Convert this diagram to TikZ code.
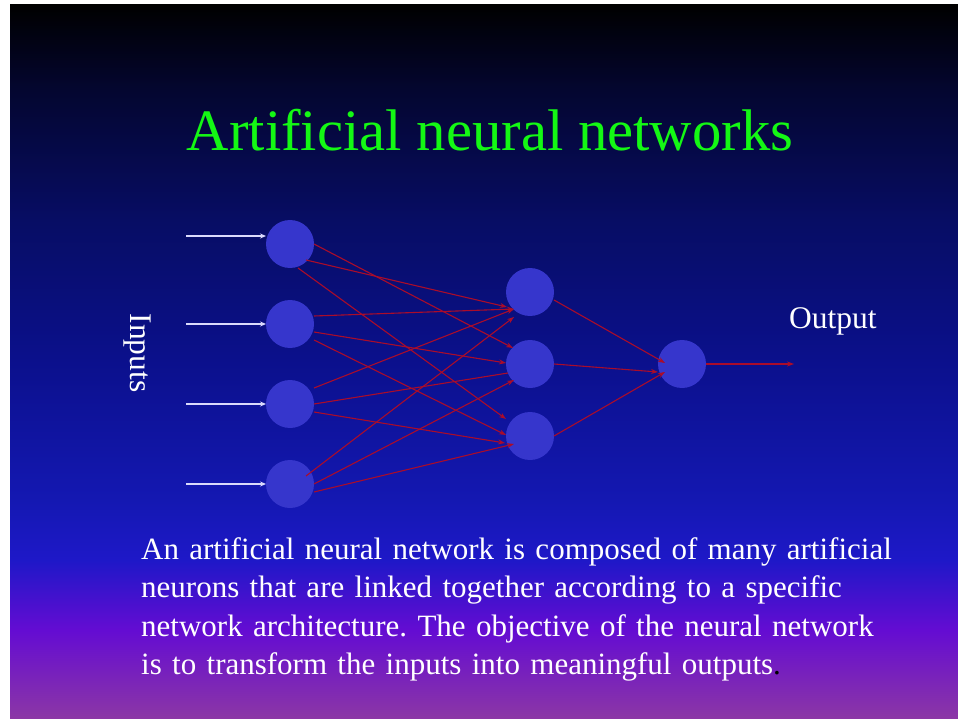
\documentclass[tikz,border=0pt]{standalone}
\usepackage{fontspec}
\setmainfont{Liberation Serif}
\usetikzlibrary{arrows.meta}

% slide background: black at the top, through deep blue, to violet at the foot
\pgfdeclareverticalshading{slidebg}{100bp}{
  rgb(0bp)=(0.549,0.216,0.647);
  rgb(25bp)=(0.549,0.216,0.647);
  rgb(31.23bp)=(0.392,0.047,0.824);
  rgb(36.13bp)=(0.118,0.094,0.784);
  rgb(40.34bp)=(0.078,0.094,0.698);
  rgb(50.14bp)=(0.043,0.063,0.549);
  rgb(59.94bp)=(0.027,0.051,0.392);
  rgb(69.05bp)=(0.016,0.024,0.188);
  rgb(75bp)=(0,0,0);
  rgb(100bp)=(0,0,0)}

\definecolor{neuronblue}{RGB}{54,54,204}
\definecolor{linkred}{RGB}{170,12,42}
\definecolor{feedwhite}{RGB}{218,218,252}
\definecolor{titlegreen}{RGB}{20,248,20}

\tikzset{
  neuron/.style={circle, fill=neuronblue, draw=none, minimum size=48pt, inner sep=0pt},
  link/.style={draw=linkred, line width=1.1pt, -{Stealth[length=7pt,width=5pt]}},
  plainlink/.style={draw=linkred, line width=1.1pt},
  feed/.style={draw=feedwhite, line width=1.4pt, -{Stealth[length=6pt,width=5pt]}},
  labeltext/.style={text=white, font=\fontsize{31.5}{38.5}\selectfont, inner sep=0pt},
  captiontext/.style={text=white, font=\fontsize{31}{38.5}\selectfont, inner sep=0pt},
}

\begin{document}
\frenchspacing
\begin{tikzpicture}[x=1pt, y=-1pt]
  \useasboundingbox (0,0) rectangle (958,719);
  \fill[white] (0,0) rectangle (958,719);
  \shade[shading=slidebg] (10,5) rectangle (958,719);

  % title
  \node[anchor=base, text=titlegreen, font=\fontsize{58.7}{70}\selectfont, inner sep=0pt]
    (title) at (490,151) {Artificial neural networks};

  % neurons
  \node[neuron] (i1) at (290,244) {};
  \node[neuron] (i2) at (290,324) {};
  \node[neuron] (i3) at (290,404) {};
  \node[neuron] (i4) at (290,484) {};
  \node[neuron] (h1) at (530,292) {};
  \node[neuron] (h2) at (530,364) {};
  \node[neuron] (h3) at (530,436) {};
  \node[neuron] (o)  at (682,364) {};

  % free ends of the input and output arrows
  \coordinate (s1) at (186,236);
  \coordinate (s2) at (186,324);
  \coordinate (s3) at (186,404);
  \coordinate (s4) at (186,484);
  \coordinate (out) at (794,364);

  % input arrows
  \draw[feed] (s1) -- ([shift={(-24,-8)}]i1.center);
  \draw[feed] (s2) -- ([shift={(-24,0)}]i2.center);
  \draw[feed] (s3) -- ([shift={(-24,0)}]i3.center);
  \draw[feed] (s4) -- ([shift={(-24,0)}]i4.center);

  % input layer to hidden layer
  \draw[link] ([shift={(24,0)}]i1.center)  -- ([shift={(-17,-16)}]h2.center);
  \draw[link] ([shift={(16,16)}]i1.center) -- ([shift={(-23,15)}]h1.center);
  \draw[link] ([shift={(8,24)}]i1.center)  -- ([shift={(-24,-17)}]h3.center);

  \draw[link] ([shift={(24,-8)}]i2.center) -- ([shift={(-16,17)}]h1.center);
  \draw[link] ([shift={(24,8)}]i2.center)  -- ([shift={(-24,-1)}]h2.center);
  \draw[link] ([shift={(24,16)}]i2.center) -- ([shift={(-24,-1)}]h3.center);

  \draw[link] ([shift={(24,-16)}]i3.center) -- ([shift={(-16,17)}]h1.center);
  \draw[plainlink] ([shift={(24,0)}]i3.center) -- ([shift={(-22,9)}]h2.center);
  \draw[link] ([shift={(24,8)}]i3.center)   -- ([shift={(-25,7)}]h3.center);

  \draw[link] ([shift={(16,-8)}]i4.center) -- ([shift={(-16,25)}]h1.center);
  \draw[link] ([shift={(24,0)}]i4.center)  -- ([shift={(-16,16)}]h2.center);
  \draw[link] ([shift={(24,8)}]i4.center)  -- ([shift={(-16,8)}]h3.center);

  % hidden layer to output neuron
  \draw[link] ([shift={(24,8)}]h1.center) -- ([shift={(-17,-1)}]o.center);
  \draw[link] ([shift={(24,0)}]h2.center) -- ([shift={(-24,8)}]o.center);
  \draw[link] ([shift={(24,0)}]h3.center) -- ([shift={(-17,8)}]o.center);
  \draw[link] ([shift={(24,0)}]o.center) -- (out);

  % labels
  \node[labeltext, anchor=base west] (outlabel) at (789,328) {Output};
  \node[labeltext, anchor=base, rotate=-90] (inlabel) at (130,353) {Inputs};

  % caption
  \node[captiontext, anchor=base west, text width=820pt, align=left] (caption) at (141,559)
    {An artificial neural network is composed of many artificial\\
     neurons that are linked together according to a specific\\
     network architecture. The objective of the neural network\\
     is to transform the inputs into meaningful outputs\textcolor{black}{.}};
\end{tikzpicture}
\end{document}
